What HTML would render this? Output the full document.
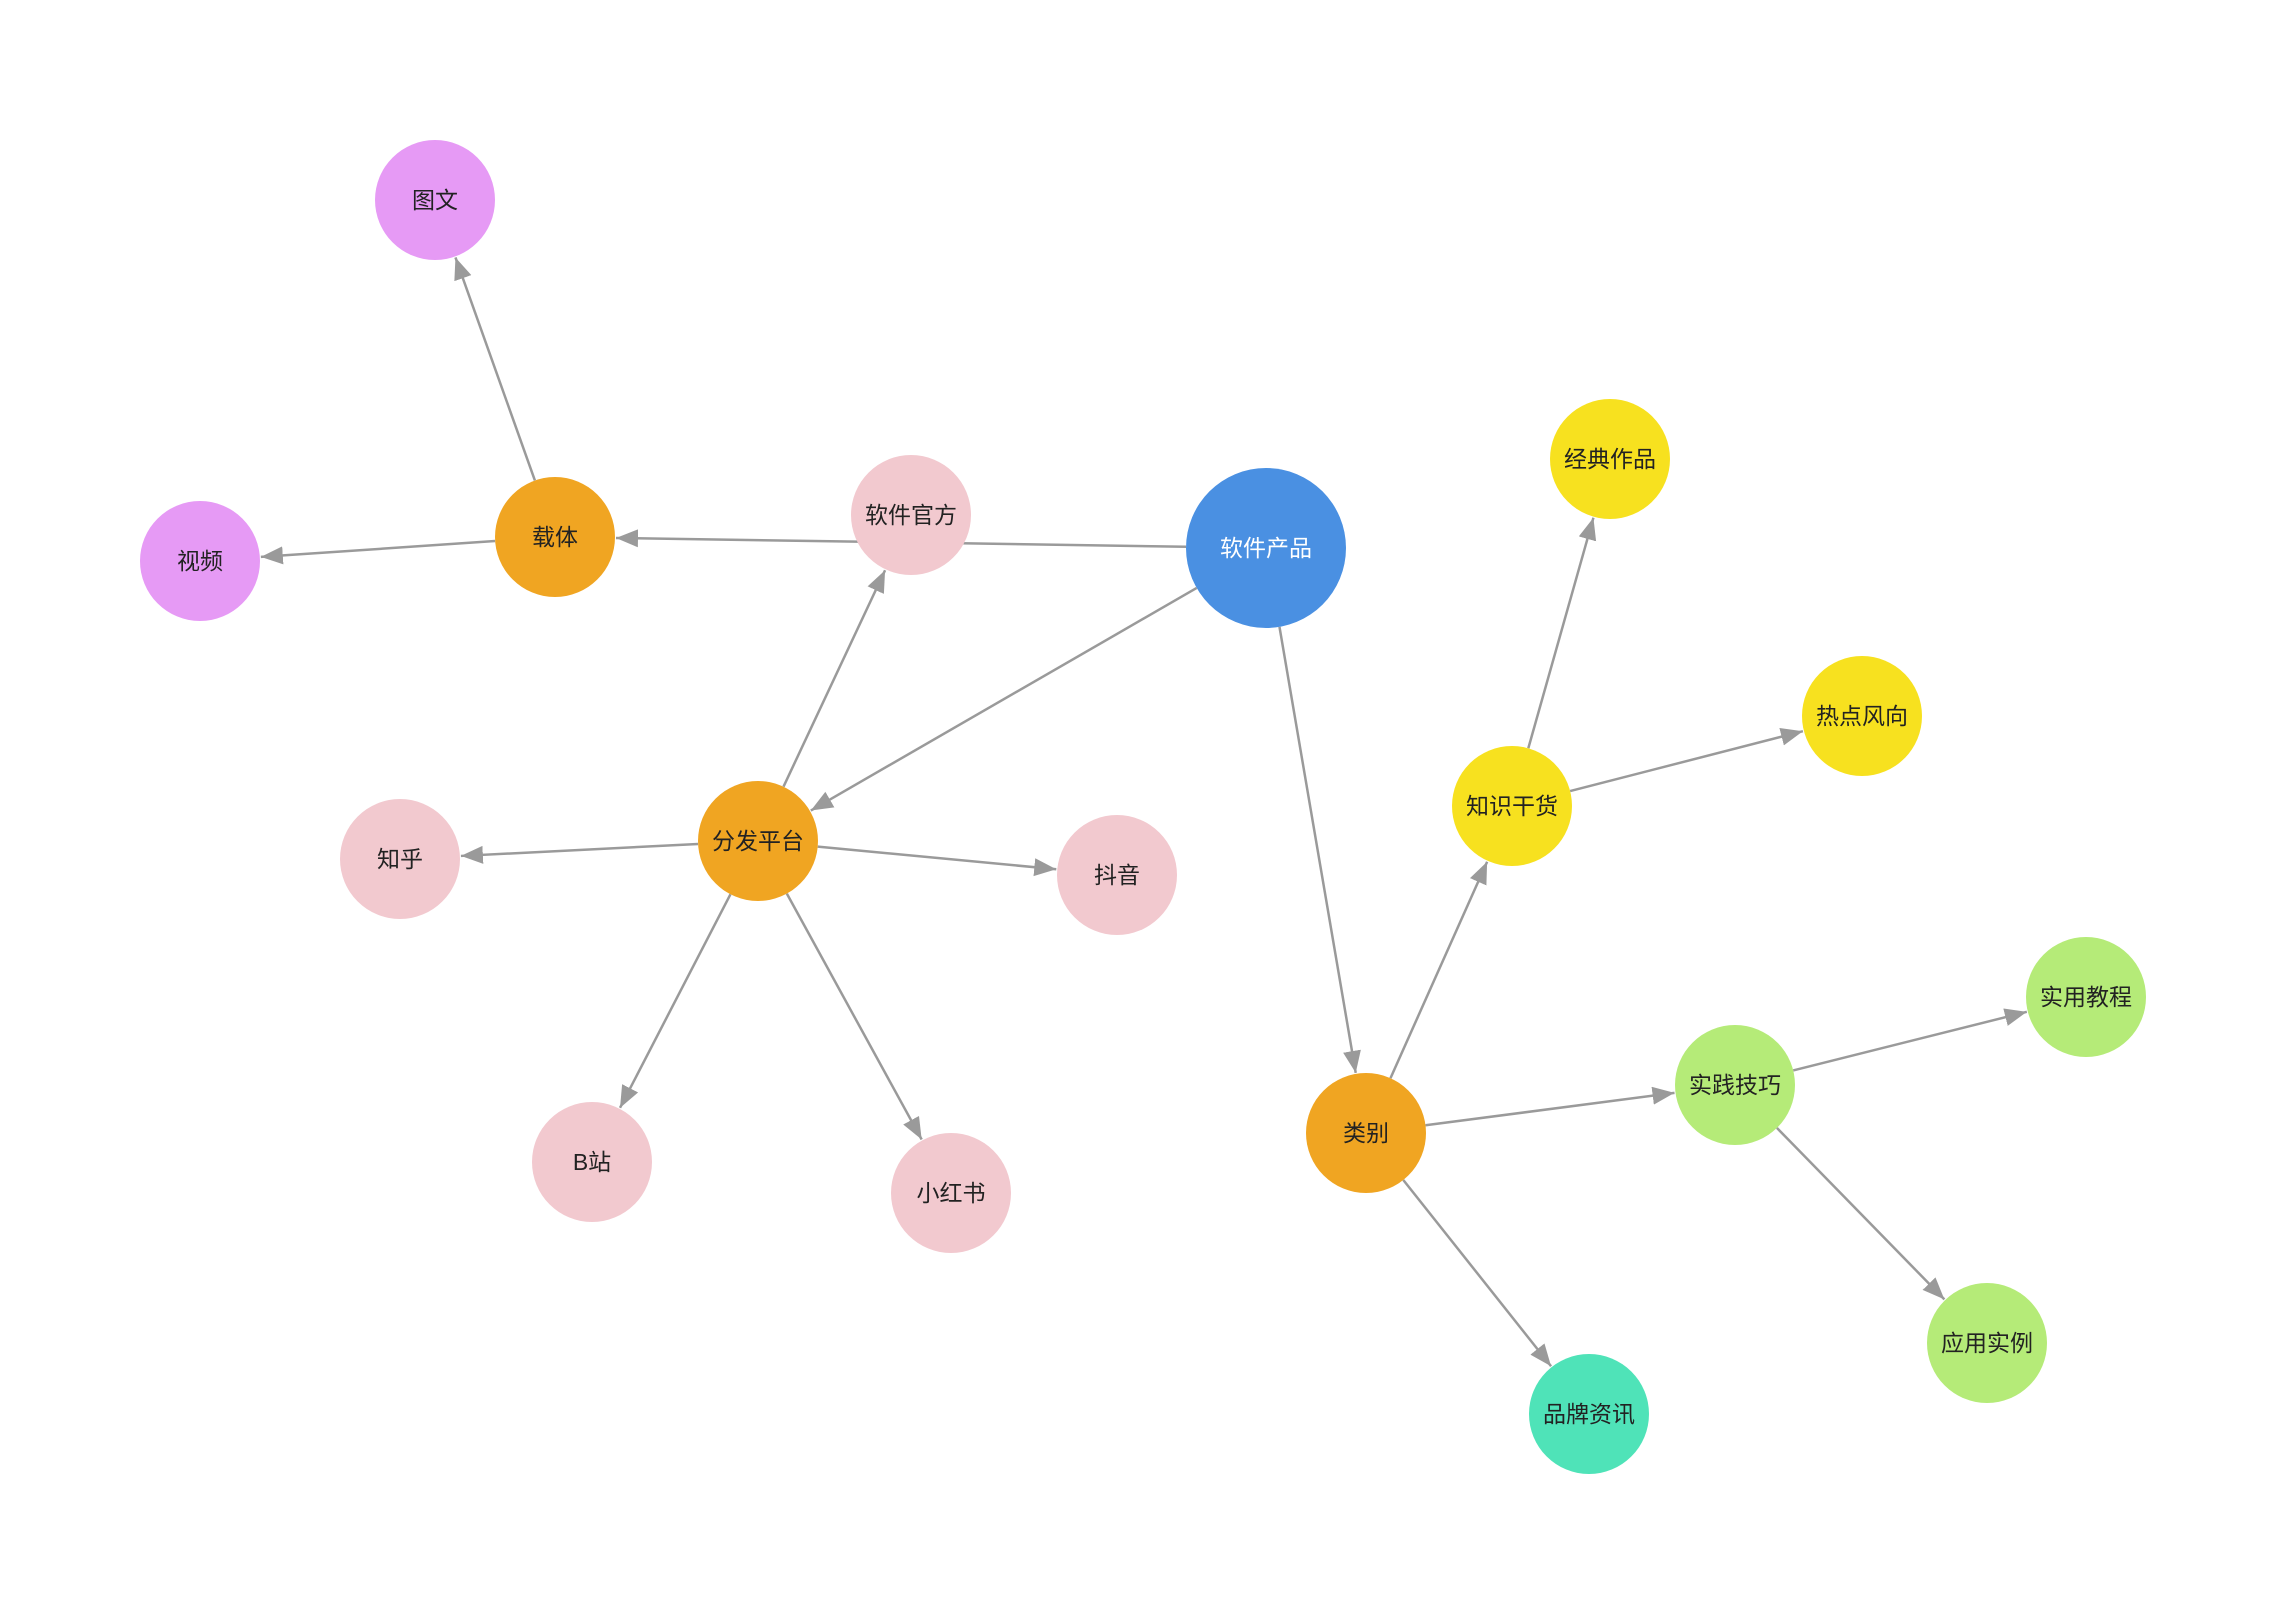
<!DOCTYPE html>
<html><head><meta charset="utf-8"><style>
html,body{margin:0;padding:0;background:#fff;}
svg{display:block;}
text{font-family:"Liberation Sans","Noto Sans CJK SC",sans-serif;font-size:23px;text-anchor:middle;dominant-baseline:central;fill:#222;}
</style></head><body>
<svg id="s" width="2286" height="1614" viewBox="0 0 2286 1614" xmlns="http://www.w3.org/2000/svg">
<defs><marker id="a" markerUnits="userSpaceOnUse" markerWidth="24" markerHeight="20" refX="22" refY="9" orient="auto"><path d="M0,0 L22,9 L0,18 Z" fill="#9a9a9a"/></marker></defs>
<g id="e" stroke="#9a9a9a" stroke-width="2.5" fill="none"></g>
<g id="n">
<circle cx="435" cy="200" r="60" fill="#e69af5"/><text x="435" y="200">图文</text>
<circle cx="200" cy="561" r="60" fill="#e69af5"/><text x="200" y="561">视频</text>
<circle cx="555" cy="537" r="60" fill="#f0a522"/><text x="555" y="537">载体</text>
<circle cx="911" cy="515" r="60" fill="#f2c9cf"/><text x="911" y="515">软件官方</text>
<circle cx="1266" cy="548" r="80" fill="#4a90e2"/><text x="1266" y="548" style="fill:#fff">软件产品</text>
<circle cx="758" cy="841" r="60" fill="#f0a522"/><text x="758" y="841">分发平台</text>
<circle cx="400" cy="859" r="60" fill="#f2c9cf"/><text x="400" y="859">知乎</text>
<circle cx="1117" cy="875" r="60" fill="#f2c9cf"/><text x="1117" y="875">抖音</text>
<circle cx="592" cy="1162" r="60" fill="#f2c9cf"/><text x="592" y="1162">B站</text>
<circle cx="951" cy="1193" r="60" fill="#f2c9cf"/><text x="951" y="1193">小红书</text>
<circle cx="1366" cy="1133" r="60" fill="#f0a522"/><text x="1366" y="1133">类别</text>
<circle cx="1512" cy="806" r="60" fill="#f7e11f"/><text x="1512" y="806">知识干货</text>
<circle cx="1610" cy="459" r="60" fill="#f7e11f"/><text x="1610" y="459">经典作品</text>
<circle cx="1862" cy="716" r="60" fill="#f7e11f"/><text x="1862" y="716">热点风向</text>
<circle cx="1735" cy="1085" r="60" fill="#b5eb78"/><text x="1735" y="1085">实践技巧</text>
<circle cx="2086" cy="997" r="60" fill="#b5eb78"/><text x="2086" y="997">实用教程</text>
<circle cx="1987" cy="1343" r="60" fill="#b5eb78"/><text x="1987" y="1343">应用实例</text>
<circle cx="1589" cy="1414" r="60" fill="#4fe3b8"/><text x="1589" y="1414">品牌资讯</text>
</g>
</svg>
<script>
var N={tw:[435,200],sp:[200,561],zt:[555,537],gf:[911,515],cp:[1266,548,80],ff:[758,841],zh:[400,859],dy:[1117,875],bz:[592,1162],xhs:[951,1193],lb:[1366,1133],zs:[1512,806],jd:[1610,459],rd:[1862,716],sj:[1735,1085],sy:[2086,997],yy:[1987,1343],pp:[1589,1414]};
var E=[["cp","zt"],["cp","ff"],["cp","lb"],["ff","gf"],["ff","zh"],["ff","dy"],["ff","bz"],["ff","xhs"],["zt","tw"],["zt","sp"],["lb","zs"],["lb","sj"],["lb","pp"],["zs","jd"],["zs","rd"],["sj","sy"],["sj","yy"]];
var g=document.getElementById("e");
E.forEach(function(p){var a=N[p[0]],b=N[p[1]];var ra=a[2]||60,rb=b[2]||60;var dx=b[0]-a[0],dy=b[1]-a[1],d=Math.sqrt(dx*dx+dy*dy),ux=dx/d,uy=dy/d;
var l=document.createElementNS("http://www.w3.org/2000/svg","line");
l.setAttribute("x1",a[0]+ux*ra);l.setAttribute("y1",a[1]+uy*ra);l.setAttribute("x2",b[0]-ux*(rb+1));l.setAttribute("y2",b[1]-uy*(rb+1));l.setAttribute("marker-end","url(#a)");g.appendChild(l);});
</script>
</body></html>
